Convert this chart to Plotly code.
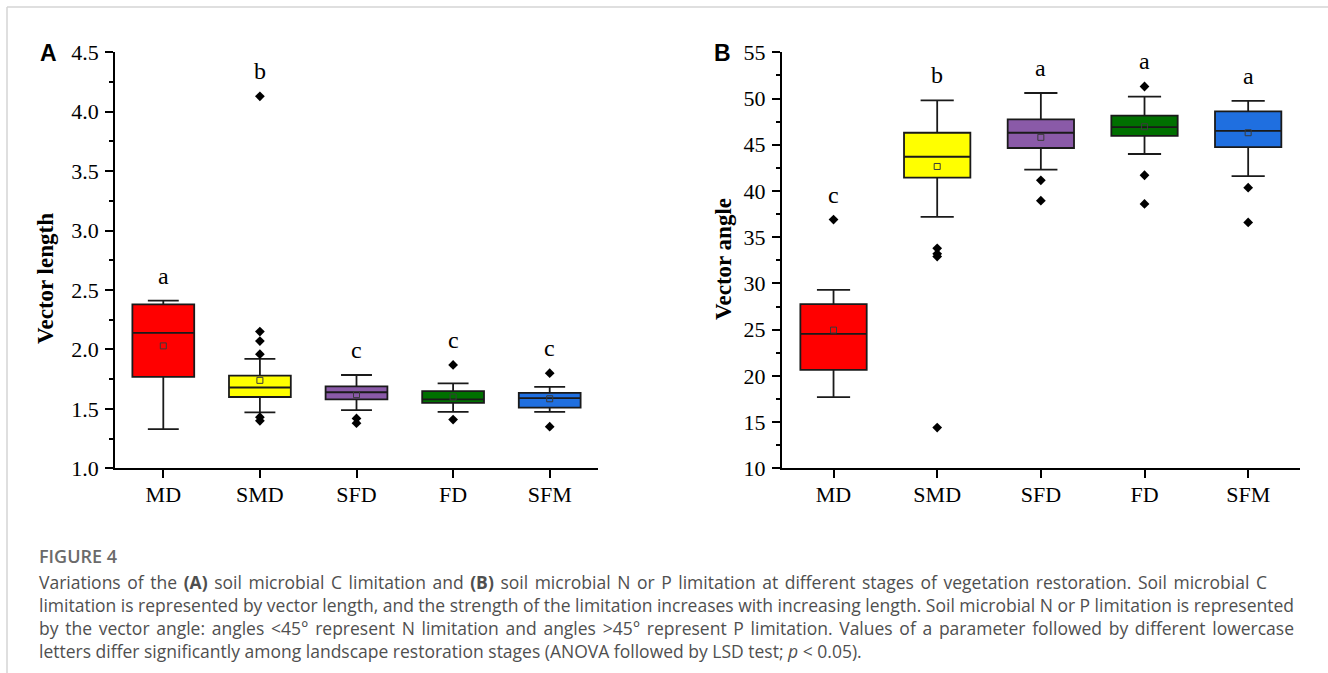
import plotly.graph_objects as go

# ---------------- data ----------------
categories = ["MD", "SMD", "SFD", "FD", "SFM"]

# Panel A: vector length
a_lower = [1.33, 1.47, 1.49, 1.475, 1.475]
a_q1 = [1.77, 1.60, 1.58, 1.55, 1.51]
a_median = [2.14, 1.68, 1.64, 1.58, 1.59]
a_q3 = [2.38, 1.78, 1.69, 1.65, 1.635]
a_upper = [2.41, 1.92, 1.785, 1.715, 1.685]
a_mean = [2.03, 1.74, 1.62, 1.60, 1.585]
a_outliers = [[], [4.13, 2.15, 2.07, 1.96, 1.43, 1.40], [1.42, 1.38], [1.87, 1.41], [1.80, 1.35]]
a_letters = ["a", "b", "c", "c", "c"]

# Panel B: vector angle
b_lower = [17.7, 37.2, 42.3, 44.0, 41.6]
b_q1 = [20.65, 41.45, 44.65, 45.95, 44.75]
b_median = [24.55, 43.7, 46.3, 46.9, 46.5]
b_q3 = [27.75, 46.3, 47.75, 48.15, 48.6]
b_upper = [29.3, 49.8, 50.6, 50.2, 49.75]
b_mean = [24.95, 42.65, 45.8, 46.95, 46.3]
b_outliers = [[36.9], [33.8, 33.2, 32.9, 14.4], [41.15, 38.95], [51.3, 41.7, 38.6], [40.35, 36.6]]
b_letters = ["c", "b", "a", "a", "a"]

# ---------------- style ----------------
box_colors = ["#ff0000", "#ffff00", "#8a5aa8", "#007000", "#1f6fe0"]
W, H = 1328, 673
SERIF = "Liberation Serif"
SANS = "Liberation Sans"
CAP = "Open Sans"


def px(x):
    return x / W


def py(y):
    return 1 - y / H


fig = go.Figure()

panels = [
    ("x", "y", a_lower, a_q1, a_median, a_q3, a_upper, a_mean, a_outliers, a_letters),
    ("x2", "y2", b_lower, b_q1, b_median, b_q3, b_upper, b_mean, b_outliers, b_letters),
]

annotations = []
for xa, ya, lo, q1, med, q3, up, mean, outs, letters in panels:
    for i, cat in enumerate(categories):
        fig.add_trace(go.Box(
            x=[cat], q1=[q1[i]], median=[med[i]], q3=[q3[i]],
            lowerfence=[lo[i]], upperfence=[up[i]],
            fillcolor=box_colors[i], line=dict(color="#1a1a1a", width=1.8),
            width=0.64, whiskerwidth=0.5, boxpoints=False,
            xaxis=xa, yaxis=ya, showlegend=False, hoverinfo="skip",
        ))
    ox = [categories[i] for i in range(len(categories)) for _ in outs[i]]
    oy = [v for i in range(len(categories)) for v in outs[i]]
    fig.add_trace(go.Scatter(
        x=ox, y=oy, mode="markers", xaxis=xa, yaxis=ya, showlegend=False,
        marker=dict(symbol="diamond", size=7.5, color="black"), hoverinfo="skip",
    ))
    fig.add_trace(go.Scatter(
        x=categories, y=mean, mode="markers", xaxis=xa, yaxis=ya, showlegend=False,
        marker=dict(symbol="square-open", size=6, color="#3a3a3a", line=dict(width=1)),
        hoverinfo="skip",
    ))
    for i, cat in enumerate(categories):
        top = max([up[i]] + list(outs[i]))
        annotations.append(dict(
            x=cat, y=top, xref=xa, yref=ya, text=letters[i], showarrow=False,
            xanchor="center", yanchor="middle",
            yshift=25, font=dict(family=SERIF, size=24, color="black"),
        ))

axis_common = dict(
    showline=True, linecolor="black", linewidth=1.8, mirror=False,
    ticks="outside", ticklen=8, tickwidth=1.8, tickcolor="black",
    tickfont=dict(family=SERIF, size=22, color="black"),
    showgrid=False, zeroline=False, automargin=False,
)

ydom = [py(468.3), py(52.3)]

fig.update_layout(
    width=W, height=H, autosize=False,
    margin=dict(l=0, r=0, t=0, b=0, pad=0),
    paper_bgcolor="white", plot_bgcolor="white",
    xaxis=dict(domain=[px(115), px(598)], anchor="y", type="category",
               range=[-0.5, 4.5], ticklabelstandoff=-3, **axis_common),
    yaxis=dict(domain=ydom, anchor="x", range=[1.0, 4.5], dtick=0.5, tick0=1.0,
               tickformat=".1f", ticklabelstandoff=2,
               minor=dict(ticks="outside", ticklen=4, tickwidth=1.6, tickcolor="black", dtick=0.25),
               **axis_common),
    xaxis2=dict(domain=[px(781.7), px(1300)], anchor="y2", type="category",
                range=[-0.5, 4.5], ticklabelstandoff=-3, **axis_common),
    yaxis2=dict(domain=ydom, anchor="x2", range=[10, 55], dtick=5, tick0=10,
                ticklabelstandoff=2,
                minor=dict(ticks="outside", ticklen=4, tickwidth=1.6, tickcolor="black", dtick=2.5),
                **axis_common),
)

annotations += [
    dict(x=px(45), y=py(279), xref="paper", yref="paper", text="<b>Vector length</b>",
         xanchor="center", yanchor="middle",
         textangle=-90, showarrow=False, font=dict(family=SERIF, size=23, color="black")),
    dict(x=px(723), y=py(259), xref="paper", yref="paper", text="<b>Vector angle</b>",
         xanchor="center", yanchor="middle",
         textangle=-90, showarrow=False, font=dict(family=SERIF, size=23, color="black")),
    dict(x=px(48), y=py(53), xref="paper", yref="paper", text="<b>A</b>",
         xanchor="center", yanchor="middle",
         showarrow=False, font=dict(family=SANS, size=23, color="black")),
    dict(x=px(722), y=py(53), xref="paper", yref="paper", text="<b>B</b>",
         xanchor="center", yanchor="middle",
         showarrow=False, font=dict(family=SANS, size=23, color="black")),
]

caption_title = "FIGURE 4"
caption_lines = [
    "Variations of the <b>(A)</b> soil microbial C limitation and <b>(B)</b> soil microbial N or P limitation at different stages of vegetation restoration. Soil microbial C",
    "limitation is represented by vector length, and the strength of the limitation increases with increasing length. Soil microbial N or P limitation is represented",
    "by the vector angle: angles &lt;45° represent N limitation and angles &gt;45° represent P limitation. Values of a parameter followed by different lowercase",
    "letters differ significantly among landscape restoration stages (ANOVA followed by LSD test; <i>p</i> &lt; 0.05).",
]
annotations.append(dict(
    x=px(37), y=py(556), xref="paper", yref="paper", xanchor="left", yanchor="middle",
    align="left", text=caption_title, showarrow=False,
    font=dict(family=CAP, size=18, color="#6a6a6a", weight=600),
))
for k, line in enumerate(caption_lines):
    annotations.append(dict(
        x=px(37), y=py(582 + 23 * k), xref="paper", yref="paper", xanchor="left",
        yanchor="middle", align="left", text=line, showarrow=False,
        font=dict(family=CAP, size=17.5, color="#4f4f4f"),
    ))

fig.update_layout(annotations=annotations)

fig.add_shape(type="line", xref="paper", yref="paper", x0=px(7), x1=1, y0=py(7), y1=py(7),
              line=dict(color="#d4d4d4", width=1.5))
fig.add_shape(type="line", xref="paper", yref="paper", x0=px(7), x1=px(7), y0=0, y1=py(7),
              line=dict(color="#d4d4d4", width=1.5))

# justify the caption lines (target widths in px from the left edge at x=37)
justify_js = """
document.body.style.margin='0';document.body.style.overflow='hidden';
(function(){
  var targets = [["Variations of the", 1228], ["limitation is represented", 1255], ["by the vector angle", 1255]];
  var texts = document.querySelectorAll('text.annotation-text');
  texts.forEach(function(t){
    var s = t.textContent;
    targets.forEach(function(p){
      if (s.indexOf(p[0]) === 0) {
        var w = t.getComputedTextLength();
        var n = (s.match(/[ \\u00A0]/g) || []).length;
        if (n > 0) { t.style.wordSpacing = ((p[1] - w) / n) + 'px'; }
      }
    });
  });
})();
"""

fig.write_html("out.html", config={"displayModeBar": False}, post_script=justify_js)
